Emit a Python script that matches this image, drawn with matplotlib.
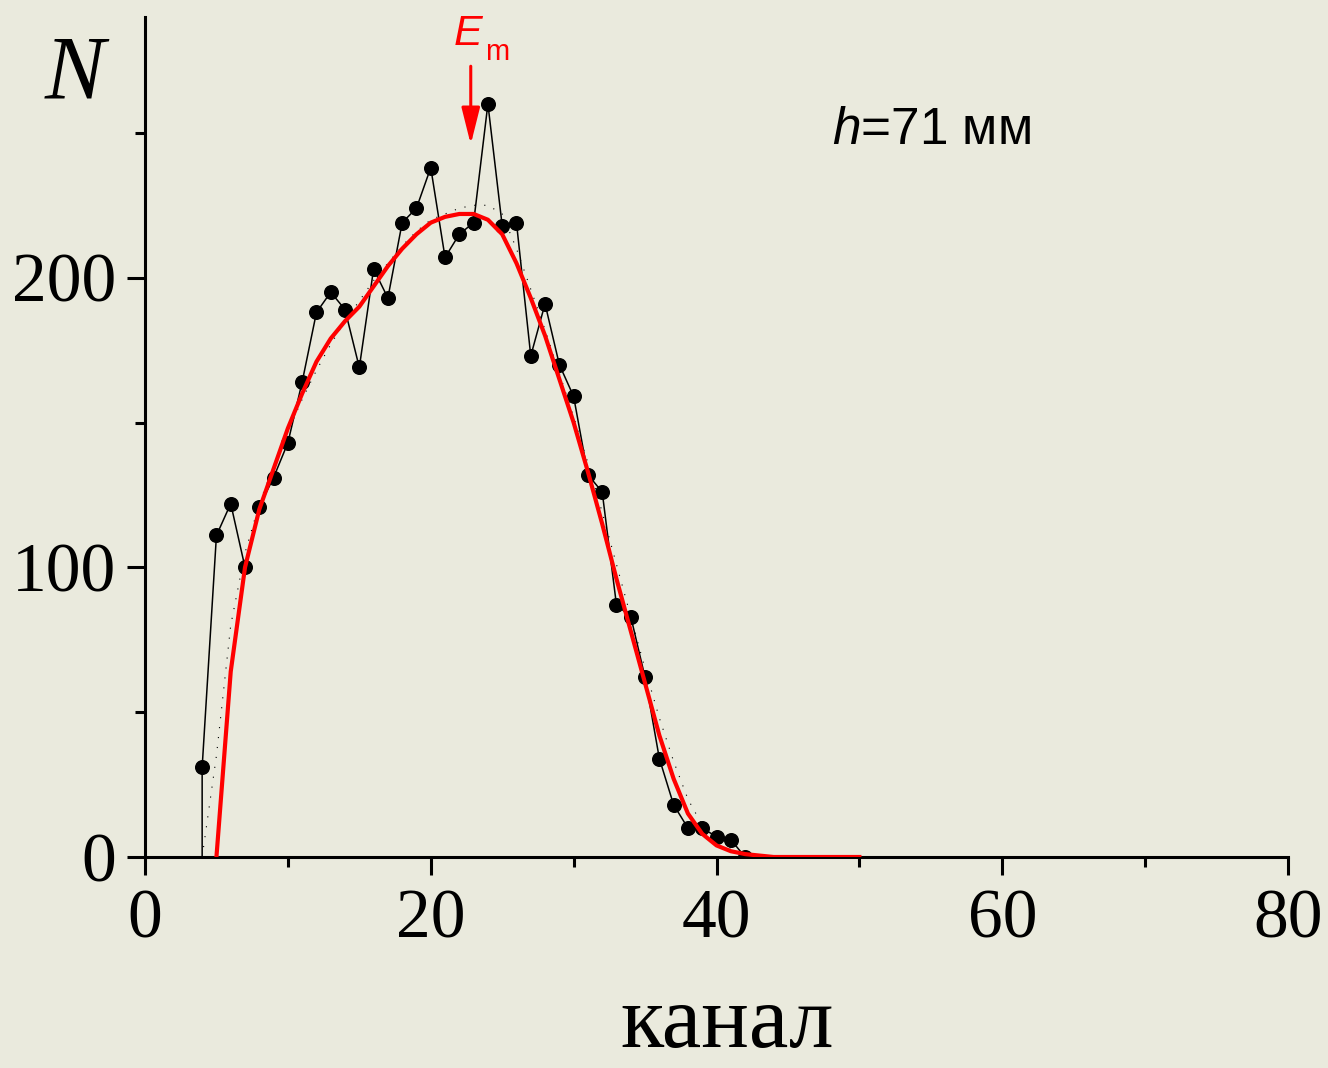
import matplotlib
matplotlib.use("Agg")
import matplotlib.pyplot as plt
from matplotlib.ticker import MultipleLocator

# ---- data ----
channels = list(range(4, 43))
counts = [31, 111, 122, 100, 121, 131, 143, 164, 188, 195, 189, 169, 203, 193,
          219, 224, 238, 207, 215, 219, 260, 218, 219, 173, 191, 170, 159, 132,
          126, 87, 83, 62, 34, 18, 10, 10, 7, 6, 0]

fit_channels = list(range(5, 51))
fit_values = [0, 64, 100, 120, 134, 148, 160, 171, 179, 185, 190, 197, 204, 210,
              215, 219, 221, 222, 222, 220, 215, 205, 193, 180, 165, 150, 133, 115,
              96, 78, 60, 42, 27, 15, 8, 4, 2, 1, 0.5, 0, 0, 0, 0, 0, 0, 0]

dot_channels = list(range(4, 45))
dot_values = [0, 35, 80, 105, 122, 135, 147, 158, 168, 177, 185, 192, 199, 205,
              211, 216, 220, 222, 224, 225, 225, 222, 210, 196, 182, 167, 152, 136,
              119, 101, 83, 65, 48, 33, 20, 11, 6, 3, 1, 0.5, 0]

x_ticks = [0, 20, 40, 60, 80]
y_ticks = [0, 100, 200]
em_channel = 22.8

plt.rcParams['mathtext.fontset'] = 'custom'
plt.rcParams['mathtext.rm'] = 'Liberation Sans'
plt.rcParams['mathtext.it'] = 'Liberation Sans:italic'

bg = '#EAEADD'
fig = plt.figure(figsize=(13.28, 10.68), dpi=100, facecolor=bg)
ax = fig.add_axes([145/1328, 1 - 857/1068, (1288-145)/1328, (857-17)/1068])
ax.set_facecolor(bg)

# dotted fit
ax.plot(dot_channels, dot_values, color='black', lw=0.8, ls=(0, (1, 8)), zorder=2)
# data line
ax.plot([channels[0]] + channels, [0] + counts, color='black', lw=1.1, zorder=3)
ax.plot(channels, counts, 'o', color='black', ms=9.8, zorder=4)
# red fit
ax.plot(fit_channels, fit_values, color='#FF0000', lw=3, zorder=5)

ax.set_xlim(0, 80)
ax.set_ylim(0, 290)
ax.set_xticks(x_ticks)
ax.set_yticks(y_ticks)
ax.xaxis.set_minor_locator(MultipleLocator(10))
ax.yaxis.set_minor_locator(MultipleLocator(50))
for s in ['top', 'right']:
    ax.spines[s].set_visible(False)
for s in ['left', 'bottom']:
    ax.spines[s].set_linewidth(2.2)
ax.tick_params(which='major', length=13, width=2.2, direction='out', pad=10,
               labelsize=50)
ax.tick_params(which='minor', length=7, width=2.2, direction='out')
for lab in ax.get_xticklabels() + ax.get_yticklabels():
    lab.set_fontfamily('Liberation Serif')
ax.tick_params(axis='y', pad=8)

# labels
fig.text(75/1328, 1 - 98/1068, 'N', fontsize=65, fontfamily='Liberation Serif',
         fontstyle='italic', ha='center', va='baseline')
fig.text(727/1328, 1 - 1047/1068, 'канал', fontsize=64, fontfamily='Liberation Serif',
         ha='center', va='baseline')

ax.text(48.1, 246, r'$\mathit{h}$=71 мм', fontsize=37, fontfamily='Liberation Sans',
        ha='left', va='baseline', color='black')

ax.text(21.6, 280.5, 'E', fontsize=31, fontfamily='Liberation Sans', fontstyle='italic',
        color='#FF0000', ha='left', va='baseline', clip_on=False)
ax.text(23.8, 275.3, 'm', fontsize=21, fontfamily='Liberation Sans',
        color='#FF0000', ha='left', va='baseline', clip_on=False)
ax.annotate('', xy=(em_channel, 246), xytext=(em_channel, 273),
            arrowprops=dict(arrowstyle='-|>,head_length=0.8,head_width=0.2',
                            color='#FF0000', lw=2.2,
                            mutation_scale=28, shrinkA=0, shrinkB=0),
            annotation_clip=False)

fig.savefig('out.png', dpi=100, facecolor=bg)
